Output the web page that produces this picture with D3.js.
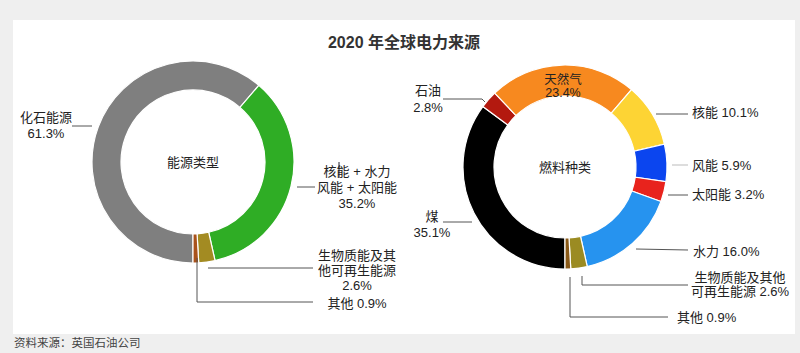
<!DOCTYPE html>
<html lang="zh-CN">
<head>
<meta charset="utf-8">
<script src="https://cdn.jsdelivr.net/npm/d3@7"></script>
<style>
  body { margin: 0; background: #efefef; }
  text { font-family: "Liberation Sans", "Noto Sans CJK SC", sans-serif; fill: #222; }
</style>
</head>
<body>
<div id="chart"></div>
<script>
// data
const typeNames = ["化石能源", "核能 + 水力 风能 + 太阳能", "生物质能及其他可再生能源", "其他"];
const typeValues = [61.3, 35.2, 2.6, 0.9];
const typeColors = ["#7f7f7f", "#2fad25", "#a38b22", "#a9521b"];

const fuelNames = ["煤", "石油", "天然气", "核能", "风能", "太阳能", "水力", "生物质能及其他可再生能源", "其他"];
const fuelValues = [35.1, 2.8, 23.4, 10.1, 5.9, 3.2, 16.0, 2.6, 0.9];
const fuelColors = ["#000000", "#b3190f", "#f7891f", "#fdd434", "#0b45ef", "#e8231d", "#2693ef", "#9b8b22", "#8a5a18"];

const width = 800, height = 353;

const svg = d3.select("#chart")
    .append("svg")
    .attr("width", width)
    .attr("height", height)
    .attr("viewBox", [0, 0, width, height]);

// white panel
svg.append("rect")
    .attr("x", 13).attr("y", 20)
    .attr("width", 782).attr("height", 314)
    .attr("fill", "#fff");

svg.append("text")
    .attr("x", 404).attr("y", 48)
    .attr("text-anchor", "middle")
    .attr("font-size", 16)
    .attr("font-weight", 700)
    .style("fill", "#333")
    .text("2020 年全球电力来源");

svg.append("text")
    .attr("x", 14).attr("y", 347)
    .attr("font-size", 11.5)
    .style("fill", "#444")
    .text("资料来源：英国石油公司");

const pie = d3.pie().sort(null).startAngle(Math.PI).endAngle(3 * Math.PI);

function donut(cx, cy, rIn, rOut, values, colors, title) {
    const g = svg.append("g").attr("transform", `translate(${cx},${cy})`);
    const arc = d3.arc().innerRadius(rIn).outerRadius(rOut);
    g.selectAll("path")
        .data(pie(values))
        .join("path")
        .attr("d", arc)
        .attr("fill", (d, i) => colors[i])
        .attr("stroke", "#fff")
        .attr("stroke-width", 1.2);
    g.append("text")
        .attr("text-anchor", "middle")
        .attr("dy", "0.35em")
        .attr("font-size", 13)
        .text(title);
    return g;
}

donut(193, 162, 72, 101, typeValues, typeColors, "能源类型");
donut(565, 167, 71, 102, fuelValues, fuelColors, "燃料种类");

// labels: lines of text, anchor point, and leader polyline
function label(lines, x, y, anchor, lh, size) {
    const t = svg.append("text")
        .attr("text-anchor", anchor)
        .attr("font-size", size || 13);
    lines.forEach((s, i) => {
        t.append("tspan").attr("x", x).attr("y", y + i * lh).text(s);
    });
}
function leader(pts, color) {
    svg.append("path")
        .attr("d", d3.line()(pts))
        .attr("fill", "none")
        .attr("stroke", color || "#555")
        .attr("stroke-width", 1);
}

const pct = v => v.toFixed(1) + "%";

// left chart
label(["化石能源", pct(typeValues[0])], 46, 122, "middle", 16);
leader([[72, 126], [92, 126]]);
label(["核能 + 水力", "风能 + 太阳能", pct(typeValues[1])], 357, 176, "middle", 16);
leader([[297, 187], [315, 187]]);
leader([[339, 162], [339, 178]], "#223");
label(["生物质能及其", "他可再生能源", pct(typeValues[2])], 357, 260, "middle", 15);
leader([[208, 268], [313, 268]]);
label(["其他 " + pct(typeValues[3])], 357, 308, "middle", 16);
leader([[197, 258], [197, 302], [313, 302]]);

// right chart
label(["石油", pct(fuelValues[1])], 428, 95, "middle", 17);
leader([[443, 99], [482, 99], [485, 102]]);
label(["天然气", pct(fuelValues[2])], 563, 83.5, "middle", 13.5, 12.5);
label(["核能 " + pct(fuelValues[3])], 692, 117, "start", 16);
leader([[656, 114], [688, 114]]);
label(["风能 " + pct(fuelValues[4])], 692, 170, "start", 16);
leader([[672, 165], [688, 165]], "#bbb");
label(["太阳能 " + pct(fuelValues[5])], 692, 199, "start", 16);
leader([[668, 195], [688, 195]]);
label(["水力 " + pct(fuelValues[6])], 693, 256, "start", 16);
leader([[636, 249], [688, 250]]);
label(["生物质能及其他", "可再生能源 " + pct(fuelValues[7])], 740, 281.5, "middle", 14.5);
leader([[582, 276], [582, 285], [688, 285]]);
label(["其他 " + pct(fuelValues[8])], 677, 322, "start", 16);
leader([[570, 277], [570, 317], [668, 317]]);
label(["煤", pct(fuelValues[0])], 432, 221, "middle", 16);
leader([[443, 222], [472, 222]]);
</script>
</body>
</html>
